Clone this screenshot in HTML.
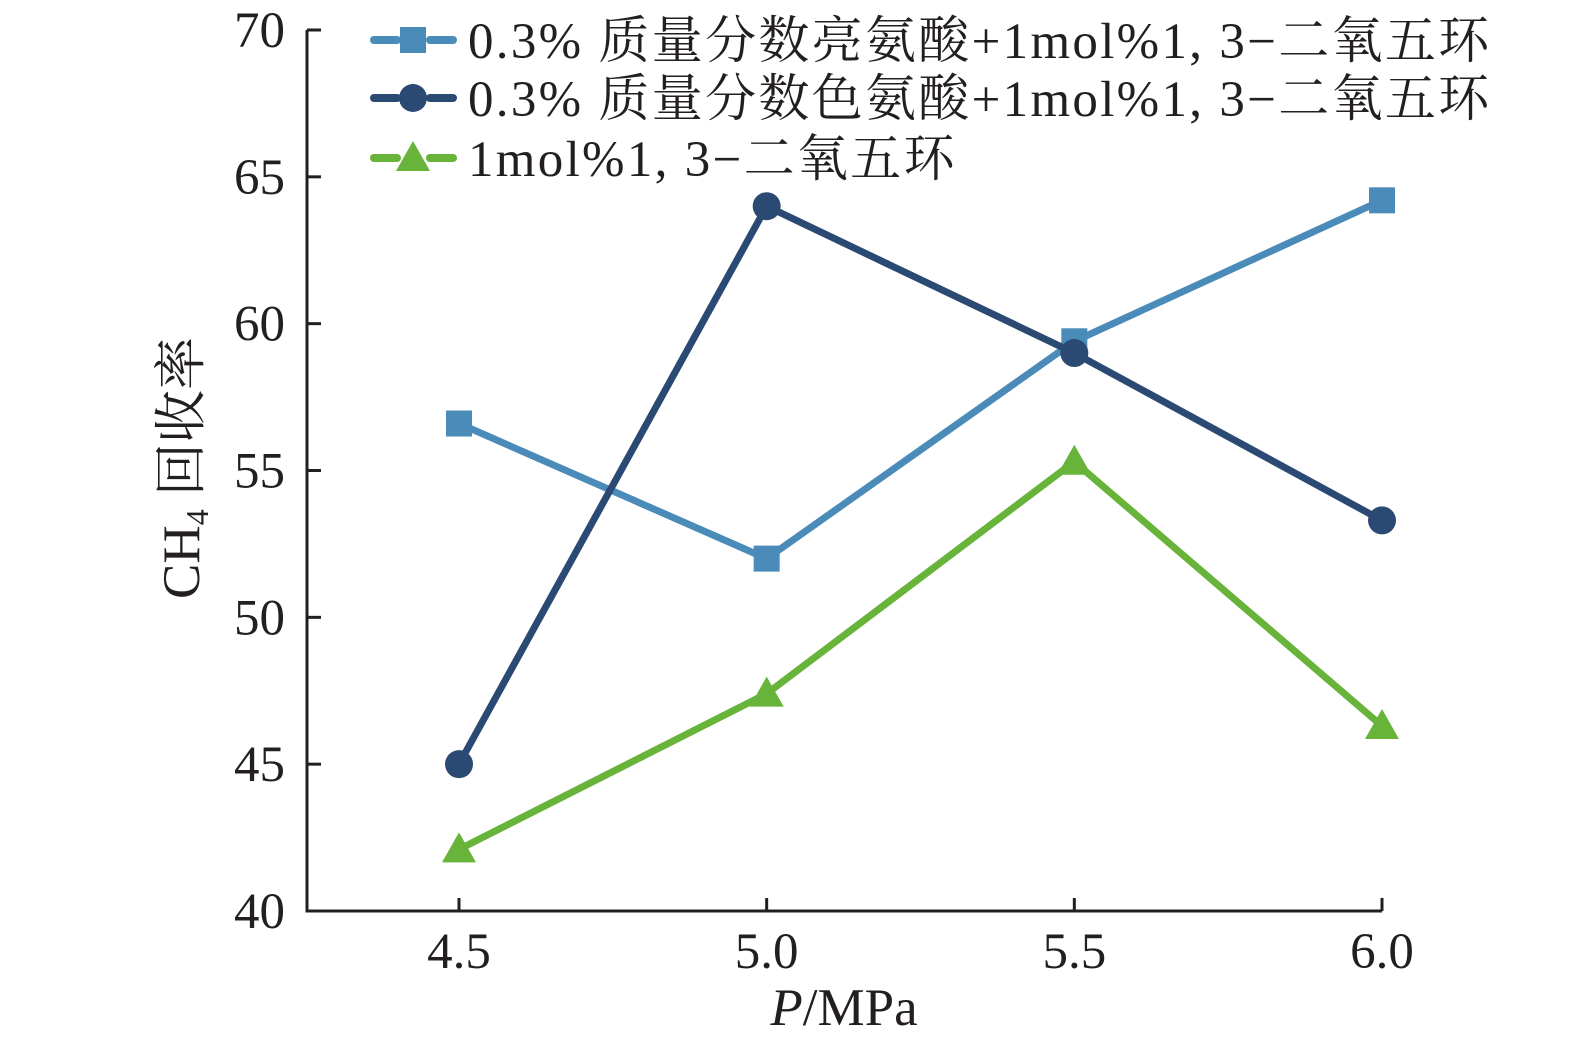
<!DOCTYPE html>
<html><head><meta charset="utf-8"><style>
html,body{margin:0;padding:0;background:#fff;}
svg{display:block;font-family:"Liberation Serif","Noto Serif CJK SC",serif;}
</style></head><body>
<svg id="chart" width="1575" height="1046" viewBox="0 0 1575 1046">
<g id="axes"></g>
<g id="series"></g>
<g id="legend"></g>
</svg>
<script>
const categories = [4.5, 5.0, 5.5, 6.0];
const xTickLabels = ["4.5", "5.0", "5.5", "6.0"];
const yTicks = [40, 45, 50, 55, 60, 65, 70];
const leucineSeries = [56.6, 52.0, 59.4, 64.2];
const tryptophanSeries = [45.0, 64.0, 59.0, 53.3];
const baseSeries = [42.1, 47.4, 55.3, 46.3];
const seriesNames = ["0.3% 质量分数亮氨酸+1mol%1, 3−二氧五环","0.3% 质量分数色氨酸+1mol%1, 3−二氧五环","1mol%1, 3−二氧五环"];

const NS="http://www.w3.org/2000/svg";
const X0=307, Y0=911, YT=30;
const xs=v=>459+(v-4.5)/1.5*(1382-459);
const ys=v=>Y0-(v-40)/30*(Y0-YT);
function mk(tag,attrs,parent){const e=document.createElementNS(NS,tag);for(const k in attrs)e.setAttribute(k,attrs[k]);parent.appendChild(e);return e;}
const axes=document.getElementById('axes');
let e=mk('path',{d:`M${X0} ${YT}V${Y0}H1382`,stroke:'#231f20','stroke-width':3,fill:'none'},axes);


yTicks.forEach(t=>{
  const y=ys(t);
  let l=mk('line',{x1:X0,x2:X0+14,y1:y,y2:y,stroke:'#231f20','stroke-width':3},axes);
  
  
  let tx=mk('text',{x:X0-22,y:y+17,'text-anchor':'end','font-size':51,fill:'#231f20'},axes);
  tx.textContent=t;
  
  
});
categories.forEach((c,i)=>{
  const x=xs(c);
  let l=mk('line',{x1:x,x2:x,y1:Y0,y2:Y0-13,stroke:'#231f20','stroke-width':3},axes);
  
  
  let tx=mk('text',{x:x,y:968,'text-anchor':'middle','font-size':51,fill:'#231f20'},axes);
  tx.textContent=xTickLabels[i];
  
  
});
let xt=mk('text',{x:844,y:1025,'text-anchor':'middle','font-size':53,fill:'#231f20'},axes);
xt.innerHTML='<tspan font-style="italic">P</tspan>/MPa';


let yt=mk('text',{transform:'translate(199,468) rotate(-90)','text-anchor':'middle','font-size':53,fill:'#231f20'},axes);
yt.innerHTML='CH<tspan font-size="32" dy="9">4</tspan><tspan dy="-9"> 回收率</tspan>';



const colors=['#4b8bb9','#2b4a73','#68b33a'];
const shapes=['square','circle','triangle'];
const data=[leucineSeries,tryptophanSeries,baseSeries];
function marker(shape,x,y,color,parent){
  let m;
  if(shape==='square')m=mk('rect',{x:x-13,y:y-13,width:26,height:26,fill:color},parent);
  else if(shape==='circle')m=mk('circle',{cx:x,cy:y,r:14,fill:color},parent);
  else m=mk('polygon',{points:`${x},${y-17} ${x+17},${y+13} ${x-17},${y+13}`,fill:color},parent);
  return m;
}
const sg=document.getElementById('series');
data.forEach((arr,si)=>{
  const g=mk('g',{},sg);
  
  
  let p=mk('polyline',{points:arr.map((v,i)=>xs(categories[i])+','+ys(v)).join(' '),fill:'none',stroke:colors[si],'stroke-width':7,'stroke-linejoin':'round'},g);
  
  
  arr.forEach((v,i)=>{
    const m=marker(shapes[si],xs(categories[i]),ys(v),colors[si],g);
    
    
  });
});
const lg=document.getElementById('legend');
const rows=[40,98,158];
seriesNames.forEach((n,i)=>{
  const g=mk('g',{},lg);
  
  
  const y=rows[i];
  mk('line',{x1:374,x2:397,y1:y,y2:y,stroke:colors[i],'stroke-width':8,'stroke-linecap':'round'},g);
  mk('line',{x1:430,x2:453,y1:y,y2:y,stroke:colors[i],'stroke-width':8,'stroke-linecap':'round'},g);
  marker(shapes[i],413,y,colors[i],g);
  const t=mk('text',{x:468,y:y+18,'font-size':51,'letter-spacing':2.3,fill:'#231f20'},g);
  t.textContent=n;
});
</script>
</body></html>
